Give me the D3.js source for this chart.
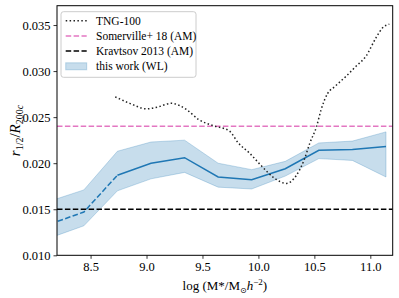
<!DOCTYPE html>
<html><head><meta charset="utf-8">
<script src="https://cdn.jsdelivr.net/npm/d3@7"></script>
<style>body{margin:0;background:#fff}svg{display:block}text{fill:#000}</style>
</head><body><svg id="c" width="399" height="298" font-family="'Liberation Serif', 'DejaVu Serif', serif"></svg>
<script>
// Data
const wlX     = [8.14, 8.44, 8.74, 9.04, 9.34, 9.64, 9.94, 10.24, 10.54, 10.84, 11.14];
const wlMid   = [0.0134, 0.0147, 0.0187, 0.0200, 0.0206, 0.0185, 0.0182, 0.0194, 0.0214, 0.0215, 0.0218];
const wlUp    = [0.0159, 0.0171, 0.0213, 0.0223, 0.0225, 0.0200, 0.0193, 0.0202, 0.0222, 0.0224, 0.0234];
const wlLow   = [0.0119, 0.0132, 0.0170, 0.0183, 0.0190, 0.0174, 0.0172, 0.0186, 0.0205, 0.0203, 0.0185];
const tngX = [8.72, 8.85, 9.00, 9.10, 9.22, 9.36, 9.47, 9.59, 9.74, 9.82, 9.92, 10.02, 10.14, 10.25, 10.34, 10.41, 10.46, 10.52, 10.56, 10.62, 10.68, 10.78, 10.87, 10.96, 11.05, 11.11, 11.17];
const tngY = [0.0272, 0.0265, 0.0259, 0.0261, 0.0265, 0.0258, 0.0247, 0.0241, 0.0235, 0.0222, 0.0211, 0.0198, 0.0184, 0.0178, 0.0187, 0.0204, 0.0222, 0.0240, 0.0258, 0.0276, 0.0283, 0.0294, 0.0305, 0.0316, 0.0336, 0.0347, 0.0351];
const somerville = 0.024;
const kravtsov = 0.015;
const xTicks = [8.5, 9.0, 9.5, 10.0, 10.5, 11.0];
const yTicks = [0.010, 0.015, 0.020, 0.025, 0.030, 0.035];
const legendLabels = ["TNG-100", "Somerville+ 18 (AM)", "Kravtsov 2013 (AM)", "this work (WL)"];

const SERIF = "'Liberation Serif', 'DejaVu Serif', serif";
const svg = d3.select("#c");
const L = 57, R = 392.7, T = 5.7, B = 255.3;
const x = d3.scaleLinear().domain([8.2, 11.2]).range([L, R]);
const y = d3.scaleLinear().domain([0.010, 0.0371]).range([B, T]);
const blue = "#1f77b4";

svg.append("defs").append("clipPath").attr("id","clip")
  .append("rect").attr("x",L).attr("y",T).attr("width",R-L).attr("height",B-T);
const g = svg.append("g").attr("clip-path","url(#clip)");

const idx = d3.range(wlX.length);
g.append("path").datum(idx)
  .attr("d", d3.area().x(i=>x(wlX[i])).y0(i=>y(wlLow[i])).y1(i=>y(wlUp[i])))
  .attr("fill", blue).attr("fill-opacity",0.25)
  .attr("stroke", blue).attr("stroke-opacity",0.25).attr("stroke-width",1);
const ln = d3.line().x(i=>x(wlX[i])).y(i=>y(wlMid[i]));
g.append("path").datum(idx.slice(0,3)).attr("d", ln).attr("fill","none")
  .attr("stroke", blue).attr("stroke-width",1.5).attr("stroke-dasharray","5.5,2.4");
g.append("path").datum(idx.slice(2)).attr("d", ln).attr("fill","none")
  .attr("stroke", blue).attr("stroke-width",1.5);
g.append("line").attr("x1",L).attr("x2",R).attr("y1",y(somerville)).attr("y2",y(somerville))
  .attr("stroke","#e377c2").attr("stroke-width",1.5).attr("stroke-dasharray","5.5,2.4");
g.append("line").attr("x1",L).attr("x2",R).attr("y1",y(kravtsov)).attr("y2",y(kravtsov))
  .attr("stroke","#000").attr("stroke-width",1.5).attr("stroke-dasharray","5.5,2.4");
g.append("path").datum(d3.range(tngX.length))
  .attr("d", d3.line().curve(d3.curveMonotoneX).x(i=>x(tngX[i])).y(i=>y(tngY[i])))
  .attr("fill","none").attr("stroke","#222").attr("stroke-width",1.5).attr("stroke-dasharray","1.5,2.4");

const xa = svg.append("g").attr("transform",`translate(0,${B})`)
  .call(d3.axisBottom(x).tickValues(xTicks).tickFormat(d3.format(".1f")).tickSize(3.5).tickPadding(3.5));
const ya = svg.append("g").attr("transform",`translate(${L},0)`)
  .call(d3.axisLeft(y).tickValues(yTicks).tickFormat(d3.format(".3f")).tickSize(3.5).tickPadding(3));
[xa,ya].forEach(a=>{a.attr("font-family",SERIF).attr("font-size",12.5);
  a.select(".domain").remove();a.selectAll("line").attr("stroke","#000").attr("stroke-width",0.8);
  a.selectAll("text").style("font-family",SERIF).style("font-size","12.5px").attr("fill","#000");});
svg.append("rect").attr("x",L).attr("y",T).attr("width",R-L).attr("height",B-T)
  .attr("fill","none").attr("stroke","#000").attr("stroke-width",1);

const xl = svg.append("text").attr("x",(L+R)/2).attr("y",290).attr("text-anchor","middle").style("font-size","13px");
xl.append("tspan").text("log (M*/M");
xl.append("tspan").style("font-size","8px").attr("dy",2.5).style("font-family","DejaVu Sans").text("⊙");
xl.append("tspan").attr("dy",-2.5).attr("font-style","italic").text("h");
xl.append("tspan").style("font-size","9px").attr("dy",-5).text("−2");
xl.append("tspan").attr("dy",5).text(")");

const yl = svg.append("text").attr("transform",`translate(20,${(T+B)/2}) rotate(-90)`).attr("text-anchor","middle").style("font-size","15px");
yl.append("tspan").attr("font-style","italic").text("r");
yl.append("tspan").style("font-size","10px").attr("dy",3).text("1/2");
yl.append("tspan").attr("dy",-3).text("/");
yl.append("tspan").attr("font-style","italic").text("R");
yl.append("tspan").style("font-size","10px").attr("dy",3).text("200");
yl.append("tspan").style("font-size","10px").attr("font-style","italic").text("c");

const lg = svg.append("g");
lg.append("rect").attr("x",61).attr("y",11.7).attr("width",135).attr("height",65.6).attr("rx",2.5)
  .attr("fill","#fff").attr("fill-opacity",0.8).attr("stroke","#cccccc").attr("stroke-width",1);
const rows = [20.7, 35.9, 51.1, 66.3];
const hx0 = 65.7, hx1 = 86.7;
lg.append("line").attr("x1",hx0).attr("x2",hx1).attr("y1",rows[0]).attr("y2",rows[0])
  .attr("stroke","#222").attr("stroke-width",1.5).attr("stroke-dasharray","1.5,2.4");
lg.append("line").attr("x1",hx0).attr("x2",hx1).attr("y1",rows[1]).attr("y2",rows[1])
  .attr("stroke","#e377c2").attr("stroke-width",1.5).attr("stroke-dasharray","5.5,2.4");
lg.append("line").attr("x1",hx0).attr("x2",hx1).attr("y1",rows[2]).attr("y2",rows[2])
  .attr("stroke","#000").attr("stroke-width",1.5).attr("stroke-dasharray","5.5,2.4");
lg.append("rect").attr("x",hx0).attr("y",rows[3]-3.5).attr("width",hx1-hx0).attr("height",7)
  .attr("fill",blue).attr("fill-opacity",0.25).attr("stroke",blue).attr("stroke-opacity",0.25);
legendLabels.forEach((t,i)=>{
  lg.append("text").attr("x",96).attr("y",rows[i]+3.8).style("font-size","11.5px").text(t);
});
</script></body></html>
